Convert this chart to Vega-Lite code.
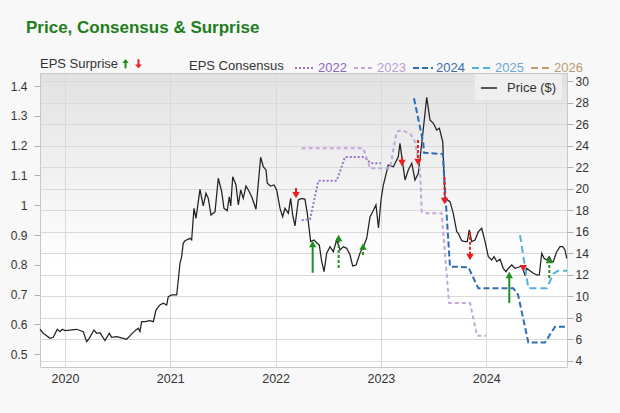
{
  "$schema": "https://vega.github.io/schema/vega-lite/v6.json",
  "width": 527,
  "height": 294,
  "autosize": {"type": "none"},
  "padding": {"left": 40, "top": 73, "right": 53, "bottom": 46},
  "background": "#f8f8f8",
  "title": {"text": "Price, Consensus & Surprise", "anchor": "start", "frame": "group", "dx": -14, "offset": 7, "fontSize": 17, "fontWeight": "bold", "color": "#1e7d1e", "font": "Liberation Sans", "baseline": "alphabetic"},
  "config": {
    "font": "Liberation Sans",
    "view": {"stroke": "#c8c8c8", "fill": {"gradient": "linear", "x1": 0, "y1": 0, "x2": 0, "y2": 1, "stops": [{"offset": 0, "color": "#e2e2e2"}, {"offset": 0.65, "color": "#ffffff"}, {"offset": 1, "color": "#ffffff"}]}},
    "axis": {"labelFont": "Liberation Sans", "labelColor": "#333333", "labelFontSize": 12, "domain": false, "tickColor": "#b0b0b0", "gridColor": "#d9d9d9", "title": null, "labelOverlap": false},
    "legend": {"labelFont": "Liberation Sans", "titleFont": "Liberation Sans", "labelFontSize": 13, "titleFontSize": 13, "titleFontWeight": "normal", "titleColor": "#333333", "labelColor": "#333333", "padding": 0}
  },
  "datasets": {
    "price": [
      {"t":2019.763,"p":6.95},{"t":2019.794,"p":6.58},{"t":2019.858,"p":6.11},{"t":2019.889,"p":6.20},{"t":2019.927,"p":6.95},{"t":2019.953,"p":6.73},{"t":2019.974,"p":6.95},{"t":2020.000,"p":6.82},{"t":2020.047,"p":6.88},{"t":2020.111,"p":6.95},{"t":2020.174,"p":6.73},{"t":2020.206,"p":5.80},{"t":2020.237,"p":6.20},{"t":2020.275,"p":6.88},{"t":2020.301,"p":6.58},{"t":2020.332,"p":6.63},{"t":2020.380,"p":5.89},{"t":2020.421,"p":6.58},{"t":2020.443,"p":6.20},{"t":2020.491,"p":6.26},{"t":2020.554,"p":6.11},{"t":2020.586,"p":6.02},{"t":2020.617,"p":6.33},{"t":2020.665,"p":6.82},{"t":2020.696,"p":7.04},{"t":2020.712,"p":6.73},{"t":2020.728,"p":7.66},{"t":2020.760,"p":7.66},{"t":2020.807,"p":7.75},{"t":2020.839,"p":7.66},{"t":2020.864,"p":8.74},{"t":2020.902,"p":9.21},{"t":2020.934,"p":9.37},{"t":2020.966,"p":9.21},{"t":2020.981,"p":9.98},{"t":2021.013,"p":10.14},{"t":2021.061,"p":10.14},{"t":2021.076,"p":11.53},{"t":2021.092,"p":13.09},{"t":2021.108,"p":13.70},{"t":2021.123,"p":14.95},{"t":2021.140,"p":15.19},{"t":2021.187,"p":15.41},{"t":2021.203,"p":15.26},{"t":2021.225,"p":18.20},{"t":2021.244,"p":17.27},{"t":2021.282,"p":19.97},{"t":2021.313,"p":18.42},{"t":2021.339,"p":19.60},{"t":2021.361,"p":19.13},{"t":2021.387,"p":17.58},{"t":2021.425,"p":17.89},{"t":2021.456,"p":21.00},{"t":2021.488,"p":19.75},{"t":2021.510,"p":18.20},{"t":2021.541,"p":17.98},{"t":2021.560,"p":19.28},{"t":2021.574,"p":18.42},{"t":2021.593,"p":21.14},{"t":2021.624,"p":20.37},{"t":2021.646,"p":18.51},{"t":2021.669,"p":19.91},{"t":2021.693,"p":19.13},{"t":2021.719,"p":20.28},{"t":2021.750,"p":19.75},{"t":2021.773,"p":19.28},{"t":2021.814,"p":18.11},{"t":2021.858,"p":22.95},{"t":2021.883,"p":22.07},{"t":2021.909,"p":21.77},{"t":2021.921,"p":20.53},{"t":2021.953,"p":20.28},{"t":2021.985,"p":20.37},{"t":2022.010,"p":19.91},{"t":2022.042,"p":18.20},{"t":2022.067,"p":17.42},{"t":2022.089,"p":18.20},{"t":2022.121,"p":17.74},{"t":2022.143,"p":19.13},{"t":2022.162,"p":17.58},{"t":2022.184,"p":16.56},{"t":2022.216,"p":18.98},{"t":2022.248,"p":19.13},{"t":2022.279,"p":19.04},{"t":2022.301,"p":17.74},{"t":2022.333,"p":15.10},{"t":2022.365,"p":15.26},{"t":2022.390,"p":15.00},{"t":2022.415,"p":14.79},{"t":2022.438,"p":13.24},{"t":2022.460,"p":12.31},{"t":2022.485,"p":14.02},{"t":2022.517,"p":14.63},{"t":2022.548,"p":14.17},{"t":2022.580,"p":15.26},{"t":2022.612,"p":14.33},{"t":2022.643,"p":14.63},{"t":2022.675,"p":14.48},{"t":2022.707,"p":13.86},{"t":2022.732,"p":12.84},{"t":2022.764,"p":12.93},{"t":2022.801,"p":14.02},{"t":2022.833,"p":14.63},{"t":2022.865,"p":15.41},{"t":2022.897,"p":17.42},{"t":2022.922,"p":17.89},{"t":2022.953,"p":18.51},{"t":2022.977,"p":16.37},{"t":2023.001,"p":18.98},{"t":2023.023,"p":20.37},{"t":2023.070,"p":22.23},{"t":2023.118,"p":22.07},{"t":2023.165,"p":23.00},{"t":2023.181,"p":24.25},{"t":2023.207,"p":22.39},{"t":2023.229,"p":20.84},{"t":2023.260,"p":21.77},{"t":2023.293,"p":22.39},{"t":2023.324,"p":20.84},{"t":2023.355,"p":21.46},{"t":2023.388,"p":24.25},{"t":2023.435,"p":28.53},{"t":2023.466,"p":26.42},{"t":2023.498,"p":26.11},{"t":2023.530,"p":25.49},{"t":2023.555,"p":25.65},{"t":2023.587,"p":24.40},{"t":2023.599,"p":21.46},{"t":2023.609,"p":19.13},{"t":2023.656,"p":18.82},{"t":2023.687,"p":17.74},{"t":2023.720,"p":16.03},{"t":2023.735,"p":15.88},{"t":2023.767,"p":15.19},{"t":2023.799,"p":15.10},{"t":2023.820,"p":15.10},{"t":2023.839,"p":16.19},{"t":2023.862,"p":15.10},{"t":2023.894,"p":15.26},{"t":2023.925,"p":16.03},{"t":2023.957,"p":16.34},{"t":2023.989,"p":15.10},{"t":2024.020,"p":13.70},{"t":2024.052,"p":13.40},{"t":2024.074,"p":13.70},{"t":2024.100,"p":13.24},{"t":2024.131,"p":13.46},{"t":2024.162,"p":12.62},{"t":2024.188,"p":12.31},{"t":2024.210,"p":12.62},{"t":2024.242,"p":12.93},{"t":2024.274,"p":12.62},{"t":2024.305,"p":12.72},{"t":2024.337,"p":12.84},{"t":2024.368,"p":12.00},{"t":2024.385,"p":12.62},{"t":2024.416,"p":12.40},{"t":2024.448,"p":12.16},{"t":2024.480,"p":12.00},{"t":2024.504,"p":12.00},{"t":2024.527,"p":14.02},{"t":2024.549,"p":13.55},{"t":2024.575,"p":13.40},{"t":2024.599,"p":13.70},{"t":2024.622,"p":13.24},{"t":2024.637,"p":13.24},{"t":2024.669,"p":14.17},{"t":2024.701,"p":14.63},{"t":2024.726,"p":14.63},{"t":2024.748,"p":14.33},{"t":2024.764,"p":13.55}
    ],
    "consensus": [
      {"fy":"2022","t":2022.248,"eps":0.950},{"fy":"2022","t":2022.327,"eps":0.953},{"fy":"2022","t":2022.406,"eps":1.082},{"fy":"2022","t":2022.580,"eps":1.082},{"fy":"2022","t":2022.659,"eps":1.162},{"fy":"2022","t":2022.840,"eps":1.162},{"fy":"2022","t":2022.906,"eps":1.141},{"fy":"2022","t":2023.001,"eps":1.141},
      {"fy":"2023","t":2022.248,"eps":1.191},{"fy":"2023","t":2022.833,"eps":1.191},{"fy":"2023","t":2022.897,"eps":1.124},{"fy":"2023","t":2023.086,"eps":1.124},{"fy":"2023","t":2023.150,"eps":1.247},{"fy":"2023","t":2023.198,"eps":1.252},{"fy":"2023","t":2023.276,"eps":1.241},{"fy":"2023","t":2023.324,"eps":1.213},{"fy":"2023","t":2023.371,"eps":1.118},{"fy":"2023","t":2023.388,"eps":0.978},{"fy":"2023","t":2023.435,"eps":0.973},{"fy":"2023","t":2023.577,"eps":0.973},{"fy":"2023","t":2023.647,"eps":0.672},{"fy":"2023","t":2023.846,"eps":0.672},{"fy":"2023","t":2023.913,"eps":0.562},{"fy":"2023","t":2023.998,"eps":0.562},
      {"fy":"2024","t":2023.314,"eps":1.359},{"fy":"2024","t":2023.403,"eps":1.208},{"fy":"2024","t":2023.409,"eps":1.176},{"fy":"2024","t":2023.587,"eps":1.172},{"fy":"2024","t":2023.656,"eps":0.794},{"fy":"2024","t":2023.830,"eps":0.792},{"fy":"2024","t":2023.925,"eps":0.721},{"fy":"2024","t":2024.257,"eps":0.721},{"fy":"2024","t":2024.302,"eps":0.700},{"fy":"2024","t":2024.400,"eps":0.539},{"fy":"2024","t":2024.558,"eps":0.539},{"fy":"2024","t":2024.653,"eps":0.592},{"fy":"2024","t":2024.767,"eps":0.592},
      {"fy":"2025","t":2024.321,"eps":0.900},{"fy":"2025","t":2024.400,"eps":0.721},{"fy":"2025","t":2024.575,"eps":0.721},{"fy":"2025","t":2024.637,"eps":0.770},{"fy":"2025","t":2024.682,"eps":0.780},{"fy":"2025","t":2024.767,"eps":0.780}
    ],
    "surprise": [
      {"t":2022.194,"est":1.058,"act":1.034,"dir":"down","q":"solid"},
      {"t":2022.352,"est":0.773,"act":0.870,"dir":"up","q":"solid"},
      {"t":2022.599,"est":0.789,"act":0.890,"dir":"up","q":"dashed"},
      {"t":2022.830,"est":0.833,"act":0.861,"dir":"up","q":"dashed"},
      {"t":2023.200,"est":1.162,"act":1.142,"dir":"down","q":"solid"},
      {"t":2023.352,"est":1.219,"act":1.145,"dir":"down","q":"dashed"},
      {"t":2023.604,"est":1.095,"act":1.014,"dir":"down","q":"dashed"},
      {"t":2023.846,"est":0.911,"act":0.826,"dir":"down","q":"dashed"},
      {"t":2024.219,"est":0.672,"act":0.766,"dir":"up","q":"solid"},
      {"t":2024.352,"est":0.799,"act":0.789,"dir":"down","q":"solid"},
      {"t":2024.599,"est":0.756,"act":0.816,"dir":"up","q":"dashed"}
    ]
  },
  "resolve": {"scale": {"y": "independent", "color": "independent"}},
  "layer": [
    {
      "data": {"name": "price"},
      "mark": {"type": "line", "strokeWidth": 1.25, "interpolate": "linear"},
      "encoding": {
        "x": {"field": "t", "type": "quantitative", "scale": {"domain": [2019.763, 2024.767], "nice": false, "zero": false},
              "axis": {"values": [2020, 2021, 2022, 2023, 2024], "format": "d", "grid": true, "ticks": false, "labelPadding": 5, "labelFontSize": 12.5}},
        "y": {"field": "p", "type": "quantitative", "scale": {"domain": [3.44, 30.79], "nice": false, "zero": false},
              "axis": {"orient": "right", "values": [4,6,8,10,12,14,16,18,20,22,24,26,28,30], "grid": true, "tickSize": 6, "labelPadding": 2}},
        "color": {"datum": "Price ($)", "type": "nominal", "scale": {"range": ["#222222"]},
                  "legend": {"orient": "none", "legendX": 435, "legendY": 1, "title": null, "symbolType": "stroke", "symbolSize": 256, "symbolStrokeWidth": 1.5, "labelOffset": 9, "padding": 5, "fillColor": "#efefef"}}
      }
    },
    {
      "resolve": {"scale": {"color": "independent", "strokeDash": "independent"}},
      "layer": [
        {
          "data": {"name": "consensus"},
          "mark": {"type": "line", "strokeWidth": 2},
          "encoding": {
            "x": {"field": "t", "type": "quantitative"},
            "y": {"field": "eps", "type": "quantitative", "scale": {"domain": [0.457, 1.444], "nice": false, "zero": false},
                  "axis": {"orient": "left", "values": [0.5,0.6,0.7,0.8,0.9,1,1.1,1.2,1.3,1.4], "format": ".1~f", "grid": false, "tickSize": 6, "labelPadding": 7, "labelOverlap": false}},
            "color": {"field": "fy", "type": "nominal", "scale": {"domain": ["2022","2023","2024","2025","2026"], "range": ["#9b72c6","#c3a6dc","#2e6db4","#55b0e3","#c79b63"]},
                      "legend": {"title": "EPS Consensus", "orient": "none", "legendX": 149, "legendY": -16, "direction": "horizontal", "titleOrient": "left", "titlePadding": 10, "symbolType": "stroke", "symbolSize": 400, "symbolStrokeWidth": 2, "labelOffset": 2, "columnPadding": 3,
                                 "encode": {"labels": {"update": {"fill": {"signal": "['#8e66b8','#b9a0d2','#3a6ca8','#6aa8d4','#b99a72'][datum.index]"}}}}}},
            "strokeDash": {"field": "fy", "type": "nominal", "scale": {"domain": ["2022","2023","2024","2025","2026"], "range": [[2,2],[4,3],[6,3],[7,4],[7,4]]},
                      "legend": {"title": "EPS Consensus"}}
          }
        },
        {
          "data": {"name": "surprise"},
          "layer": [
            {
              "mark": {"type": "rule", "strokeWidth": 2},
              "encoding": {
                "x": {"field": "t", "type": "quantitative"},
                "y": {"field": "est", "type": "quantitative",
                      "axis": {"orient": "left", "values": [0.5,0.6,0.7,0.8,0.9,1,1.1,1.2,1.3,1.4], "format": ".1~f", "grid": false, "tickSize": 6, "labelPadding": 7, "labelOverlap": false}},
                "y2": {"field": "act"},
                "color": {"field": "dir", "type": "nominal", "scale": {"domain": ["up","down"], "range": ["#1f8f1f","#ee1c1c"]},
                          "legend": {"title": "EPS Surprise", "orient": "none", "legendX": 0, "legendY": -16, "direction": "horizontal", "titleOrient": "left", "titlePadding": 0, "labelExpr": "''", "labelOffset": 0, "columnPadding": -5, "symbolSize": 80,
                                     "encode": {"symbols": {"update": {"shape": {"signal": "datum.value === 'up' ? 'M0,-1L0.75,-0.15L0.22,-0.15L0.22,1L-0.22,1L-0.22,-0.15L-0.75,-0.15Z' : 'M0,1L0.75,0.15L0.22,0.15L0.22,-1L-0.22,-1L-0.22,0.15L-0.75,0.15Z'"}, "strokeWidth": {"value": 0}}}}}},
                "strokeDash": {"field": "q", "type": "nominal", "scale": {"domain": ["solid","dashed"], "range": [[1,0],[3,2]]}, "legend": null}
              }
            },
            {
              "mark": {"type": "point", "filled": true, "opacity": 1, "size": 55},
              "encoding": {
                "x": {"field": "t", "type": "quantitative"},
                "y": {"field": "act", "type": "quantitative",
                      "axis": {"orient": "left", "values": [0.5,0.6,0.7,0.8,0.9,1,1.1,1.2,1.3,1.4], "format": ".1~f", "grid": false, "tickSize": 6, "labelPadding": 7, "labelOverlap": false}},
                "color": {"field": "dir", "type": "nominal"},
                "shape": {"field": "dir", "type": "nominal", "scale": {"domain": ["up","down"], "range": ["triangle-up","triangle-down"]}, "legend": null}
              }
            }
          ]
        }
      ]
    }
  ]
}
